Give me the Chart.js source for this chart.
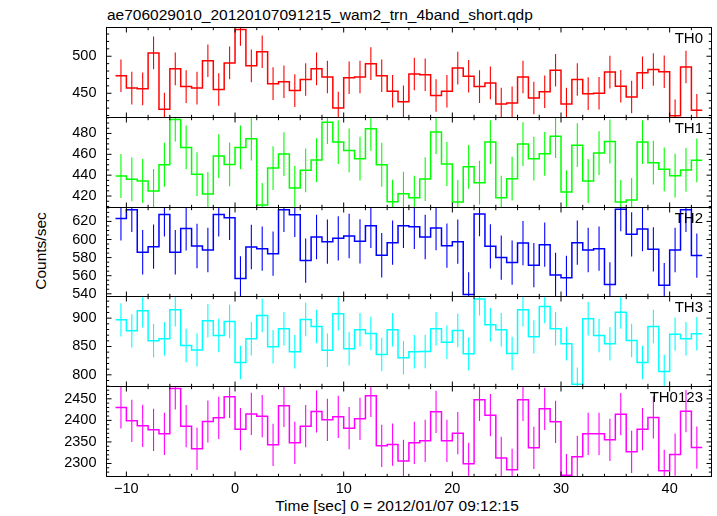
<!DOCTYPE html>
<html>
<head>
<meta charset="utf-8">
<script src="https://cdn.jsdelivr.net/npm/chart.js@4.4.0/dist/chart.umd.min.js"></script>
<style>
  html, body { margin: 0; padding: 0; background: #fff; }
  #wrap { position: relative; width: 717px; height: 516px; overflow: hidden;
          font-family: "Liberation Sans", Arial, Helvetica, sans-serif; color: #000; }
  #wrap canvas { position: absolute; left: 0; top: 0; }
  .txt { position: absolute; white-space: nowrap; font-size: 15px; line-height: 16px; }
</style>
</head>
<body>
<div id="wrap">
  <div class="txt" style="left:107px;top:7px;font-size:15.5px">ae706029010_20120107091215_wam2_trn_4band_short.qdp</div>
  <div class="txt" style="left:397px;top:498px;font-size:15.5px;transform:translateX(-50%)">Time [sec] 0 = 2012/01/07 09:12:15</div>
  <div class="txt" style="left:41px;top:251px;font-size:15.5px;transform:translate(-50%,-50%) rotate(-90deg)">Counts/sec</div>
</div>
<script>
// bin centres (sec, 1 s bins)
const binCenters = [-10.5, -9.5, -8.5, -7.5, -6.5, -5.5, -4.5, -3.5, -2.5, -1.5, -0.5, 0.5, 1.5, 2.5,
  3.5, 4.5, 5.5, 6.5, 7.5, 8.5, 9.5, 10.5, 11.5, 12.5, 13.5, 14.5, 15.5, 16.5, 17.5, 18.5, 19.5,
  20.5, 21.5, 22.5, 23.5, 24.5, 25.5, 26.5, 27.5, 28.5, 29.5, 30.5, 31.5, 32.5, 33.5, 34.5, 35.5,
  36.5, 37.5, 38.5, 39.5, 40.5, 41.5, 42.5];
const binWidth = 1;

const panelNames = ["TH0", "TH1", "TH2", "TH3", "TH0123"];
const th0 = [473.6, 457, 456, 504.5, 428.6, 483, 459, 457, 494, 455, 491, 536, 487, 506, 463, 465.5,
  453.6, 468.6, 483, 472, 430, 471, 472, 490, 473.6, 452.7, 438.6, 476, 475, 447, 452.7, 484, 473, 459,
  464, 435.5, 437, 472, 443.6, 452, 481, 435.5, 468.6, 449.5, 450, 478.6, 459.5, 445, 477.7, 482, 479,
  419.5, 485.5, 427];
const th1 = [439.2, 436, 434.4, 424.8, 450, 493.4, 466.6, 441, 422, 458.3, 450.3, 466.6, 475, 411.4,
  446.8, 460.2, 427.7, 444.6, 454.5, 490.8, 471.7, 463.7, 455.8, 484.5, 450, 414.6, 422.3, 418.4, 436.3,
  481.3, 450.7, 414.3, 448, 432.8, 471.7, 418.4, 436.6, 469.8, 455.8, 460.5, 477.4, 423.8, 468.8, 434.4,
  461.2, 472.3, 414.3, 416.2, 471.7, 452, 445.6, 439.5, 445, 454.2];
const th2 = [623.3, 632.8, 585.9, 592.1, 627.7, 585.9, 612.3, 592.8, 588.4, 627.7, 624, 556.9, 591.7,
  589.9, 584.4, 632.8, 627.3, 576.7, 602.8, 597.6, 601.3, 603.9, 598, 615.2, 582.6, 596.5, 615.2, 614.1,
  602.8, 612.7, 593.2, 597.6, 539.3, 628.1, 592.5, 580, 574.5, 596.1, 571.6, 594.3, 560.9, 557.6, 596.5,
  588.4, 589.9, 550.3, 633.6, 605.7, 611.6, 589.2, 549.5, 588.4, 632.8, 582.2];
const th3 = [897, 877.6, 913, 860, 863.5, 914.7, 851.8, 844, 895.3, 869.4, 894, 821.8, 863.5, 904.7,
  849.4, 881.2, 840.6, 897.6, 885.3, 843.5, 907.6, 845.9, 879.4, 873, 835.9, 879.4, 830, 840.6, 841.2,
  881.2, 857.6, 878.2, 837, 934, 888.2, 879.4, 837.6, 914.7, 867, 920.6, 881.2, 854.7, 783.5, 898.8,
  869.4, 854.7, 910.6, 860.6, 821.8, 885.3, 805.9, 871.8, 863.5, 872.4];
const th0123 = [2429.9, 2399, 2387.4, 2378, 2368.8, 2474, 2386.6, 2334, 2397.4, 2406, 2454.6, 2379.6,
  2415, 2409.8, 2343.3, 2433.8, 2348, 2386.6, 2420.6, 2401.3, 2408.2, 2382, 2403.6, 2457, 2341, 2344,
  2306, 2348, 2352.6, 2419.8, 2352.6, 2370.3, 2299.2, 2447.7, 2412, 2313, 2285.3, 2447.7, 2336.3, 2426.8,
  2396.6, 2272.9, 2315.4, 2368.8, 2368.8, 2354.9, 2414.4, 2327, 2379.6, 2406.7, 2283, 2320.8, 2421.4, 2337];
// half length of the error bars, per panel
const errHalf = [22, 21, 24.5, 29.5, 49];

const yMin = [417.3, 409, 537, 779.4, 2269.8];
const yMax = [538.8, 495.3, 635.4, 938.2, 2478.6];
const yTickLabels = [[450, 500], [420, 440, 460, 480], [540, 560, 580, 600, 620], [800, 850, 900],
  [2300, 2350, 2400, 2450]];
const yMinorStep = [10, 5, 5, 10, 10];

const xMin = -11.83, xMax = 43.85;
const xTickLabels = [-10, 0, 10, 20, 30, 40];
const xMinorStep = 2;

const series = [th0, th1, th2, th3, th0123];
const colors = ["#ff0000", "#00ff00", "#0000ff", "#00ffff", "#ff00ff"];

// layout (pixels)
const W = 717, H = 516;
const plotLeft = 106.5, plotRight = 711.5;
const panelEdges = [27.5, 117.5, 207.5, 296.5, 386.5, 476.5];
const FONT = "'Liberation Sans', Arial, Helvetica, sans-serif";

// inward tick marks and frame, as qdp draws them
const frameTicks = {
  id: "frameTicks",
  afterDatasetsDraw(chart) {
    const o = chart.options.plugins.frameTicks;
    const { ctx, chartArea: a } = chart;
    const xs = chart.scales.x, ys = chart.scales.y;
    ctx.save();
    ctx.strokeStyle = "#000";
    ctx.lineWidth = 1;
    ctx.beginPath();
    const isMajor = (v, list) => list.some(m => Math.abs(m - v) < 1e-6);
    for (let v = Math.ceil(xs.min / xMinorStep) * xMinorStep; v <= xs.max; v += xMinorStep) {
      const px = xs.getPixelForValue(v);
      const len = isMajor(v, xTickLabels) ? 5 : 2.7;
      ctx.moveTo(px, a.top); ctx.lineTo(px, a.top + len);
      ctx.moveTo(px, a.bottom); ctx.lineTo(px, a.bottom - len);
    }
    for (let v = Math.ceil(ys.min / o.minor) * o.minor; v <= ys.max; v += o.minor) {
      const py = ys.getPixelForValue(v);
      const len = isMajor(v, o.major) ? 5 : 2.7;
      ctx.moveTo(a.left, py); ctx.lineTo(a.left + len, py);
      ctx.moveTo(a.right, py); ctx.lineTo(a.right - len, py);
    }
    ctx.stroke();
    ctx.strokeRect(a.left, a.top, a.right - a.left, a.bottom - a.top);
    ctx.restore();
  }
};

const wrap = document.getElementById("wrap");

series.forEach((vals, i) => {
  const isLast = i === series.length - 1;

  // step line: one point per bin edge
  const stepPts = vals.map((v, k) => ({ x: binCenters[k] - binWidth / 2, y: v }));
  stepPts.push({ x: binCenters[vals.length - 1] + binWidth / 2, y: vals[vals.length - 1] });

  // error bars: vertical segments split by gaps
  const errPts = [];
  vals.forEach((v, k) => {
    errPts.push({ x: binCenters[k], y: v - errHalf[i] });
    errPts.push({ x: binCenters[k], y: v + errHalf[i] });
    errPts.push({ x: binCenters[k], y: null });
  });

  const canvas = document.createElement("canvas");
  canvas.width = W;
  canvas.height = H;
  wrap.appendChild(canvas);

  const label = document.createElement("div");
  label.className = "txt";
  label.style.right = "14px";
  label.style.top = (panelEdges[i] + 2.5) + "px";
  label.textContent = panelNames[i];
  wrap.appendChild(label);

  new Chart(canvas, {
    type: "line",
    data: {
      datasets: [
        { data: stepPts, stepped: "before", borderColor: colors[i], borderWidth: 1.5,
          pointRadius: 0, fill: false },
        { data: errPts, borderColor: colors[i], borderWidth: 1.1, pointRadius: 0,
          fill: false, spanGaps: false }
      ]
    },
    options: {
      responsive: false,
      animation: false,
      devicePixelRatio: 1,
      events: [],
      layout: {
        padding: {
          top: panelEdges[i],
          bottom: isLast ? 0 : H - panelEdges[i + 1],
          left: 0,
          right: W - plotRight
        }
      },
      plugins: {
        legend: { display: false },
        tooltip: { enabled: false },
        frameTicks: { major: yTickLabels[i], minor: yMinorStep[i] }
      },
      scales: {
        x: {
          type: "linear",
          min: xMin,
          max: xMax,
          display: isLast,
          grid: { display: false, drawTicks: false },
          border: { display: false },
          afterBuildTicks: s => { s.ticks = xTickLabels.map(v => ({ value: v })); },
          afterFit: s => { s.height = isLast ? H - panelEdges[5] : 0; },
          ticks: {
            color: "#000",
            padding: 4,
            maxRotation: 0,
            font: { family: FONT, size: 14.5 },
            callback: v => (v < 0 ? "\u2212" + Math.abs(v) : String(v))
          }
        },
        y: {
          type: "linear",
          min: yMin[i],
          max: yMax[i],
          grid: { display: false, drawTicks: false },
          border: { display: false },
          afterBuildTicks: s => { s.ticks = yTickLabels[i].map(v => ({ value: v })); },
          afterFit: s => { s.width = plotLeft; },
          ticks: {
            color: "#000",
            padding: 10,
            font: { family: FONT, size: 14.5 },
            callback: v => String(v)
          }
        }
      }
    },
    plugins: [frameTicks]
  });
});
</script>
</body>
</html>
